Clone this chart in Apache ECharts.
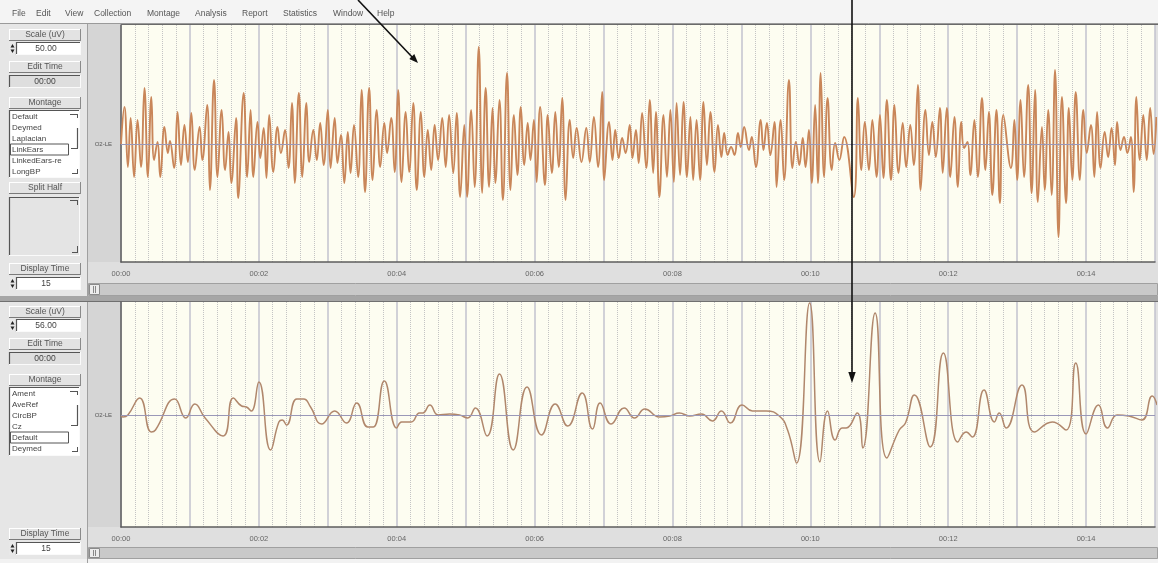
<!DOCTYPE html>
<html><head><meta charset="utf-8">
<script src="https://cdn.jsdelivr.net/npm/echarts/dist/echarts.min.js"></script>
<style>html,body{margin:0;padding:0;background:#e2e2e2}#c{width:1158px;height:563px}</style>
</head><body><div id="c"></div>
<script>
// ---------------- data ----------------
const menuItems = ['File','Edit','View','Collection','Montage','Analysis','Report','Statistics','Window','Help'];
const xTickLabels = ['00:00','00:02','00:04','00:06','00:08','00:10','00:12','00:14'];
const channelLabel = 'O2-LE';
const topMontages = ['Default','Deymed','Laplacian','LinkEars','LinkedEars-re','LongBP'];
const bottomMontages = ['Ament','AveRef','CircBP','Cz','Default','Deymed'];
const topScale = '50.00', bottomScale = '56.00', editTime = '00:00', displayTime = '15';

// upper trace: time (s) of each peak / trough, and its height above the baseline
const topTimes = [
0.00,0.05,0.10,0.14,0.19,0.24,0.29,0.34,0.39,0.44,
0.48,0.53,0.57,0.63,0.68,0.71,0.77,0.82,0.87,0.92,
0.97,1.02,1.07,1.14,1.18,1.25,1.29,1.35,1.40,1.46,
1.51,1.56,1.60,1.67,1.70,1.78,1.83,1.88,1.92,1.98,
2.02,2.07,2.11,2.15,2.21,2.27,2.32,2.38,2.43,2.48,
2.52,2.58,2.63,2.69,2.73,2.79,2.84,2.89,2.94,3.00,
3.04,3.10,3.14,3.19,3.24,3.29,3.33,3.38,3.44,3.49,
3.54,3.60,3.65,3.71,3.76,3.82,3.86,3.92,3.97,4.02,
4.07,4.13,4.18,4.24,4.29,4.35,4.40,4.45,4.50,4.55,
4.60,4.66,4.71,4.76,4.82,4.87,4.92,4.98,5.02,
5.08,5.13,5.19,5.24,5.29,5.34,5.39,5.43,5.49,5.54,
5.60,5.65,5.70,5.75,5.80,5.85,5.90,5.94,5.99,6.03,
6.08,6.15,6.19,6.25,6.30,6.35,6.40,6.45,6.51,6.56,
6.61,6.68,6.75,6.80,6.86,6.92,6.98,7.01,7.08,7.13,
7.17,7.22,7.27,7.32,7.38,7.42,7.47,7.51,7.56,7.62,
7.67,7.72,7.76,7.81,7.87,7.92,7.97,8.02,8.06,8.11,
8.16,8.21,8.26,8.30,8.35,8.40,8.45,8.50,8.55,8.61,
8.66,8.71,8.75,8.80,8.85,8.90,8.95,8.99,9.04,9.11,
9.15,9.21,9.28,9.32,9.37,9.42,9.48,9.51,9.57,9.62,
9.69,9.74,9.79,9.84,9.89,9.93,9.98,10.02,10.07,
10.11,10.15,10.20,10.25,10.31,10.36,10.42,10.49,10.63,10.69,
10.74,10.79,10.85,10.90,10.96,11.01,11.06,11.11,11.17,11.22,
11.28,11.34,11.39,11.45,11.50,11.56,11.60,11.67,11.72,11.77,
11.82,11.88,11.92,11.98,12.03,12.09,12.14,12.19,12.23,12.28,
12.32,12.38,12.43,12.49,12.54,12.59,12.64,12.70,12.75,12.80,
12.91,12.96,13.00,13.05,13.10,13.16,13.21,13.26,13.30,13.36,
13.40,13.45,13.50,13.55,13.60,13.65,13.71,13.75,13.80,13.85,
13.91,13.96,14.01,14.07,14.12,14.16,14.21,14.27,14.32,14.37,
14.42,14.45,14.50,14.55,14.60,14.65,14.69,14.73,14.78,14.83,
14.88,14.93,14.98,15.02];
const topValues = [
0,37,-23,26,-33,24,-23,56,-33,47,
-16,2,-33,17,-9,3,-24,32,-21,19,
-18,31,-26,17,-16,39,-46,64,-33,34,
-26,12,-39,26,-54,51,-33,34,-33,22,
-14,16,-34,29,-28,17,-9,14,-24,41,
-39,51,-33,41,-18,14,-16,21,-21,34,
-24,26,-19,9,-39,12,-29,19,-33,54,
-48,56,-36,34,-23,21,-9,26,-28,54,
-38,32,-28,41,-46,32,-33,14,-26,19,
-16,26,-23,29,-29,31,-53,19,-53,
34,-43,97,-49,56,-43,36,-39,44,-56,
71,-46,29,-31,37,-21,21,-16,24,-38,
37,-41,29,-29,32,-23,46,-56,24,-14,
16,-18,16,-18,27,-23,52,-36,22,-16,
14,-14,6,-9,19,-14,14,-19,31,-24,
44,-29,32,-53,29,-33,34,-38,41,-31,
42,-33,27,-36,24,-36,42,-21,32,-28,
19,-13,11,-11,-3,-11,11,-3,17,-6,
7,-23,24,-6,21,-11,22,-43,24,-36,
64,-24,2,-21,6,-23,14,-39,39,
-39,71,-33,46,-26,1,-16,7,-53,46,
-26,22,-26,24,-33,29,-34,44,-36,39,
-29,21,-23,19,-21,59,-46,34,-11,22,
-13,36,-29,36,-33,27,-43,22,-4,2,
-31,24,-33,46,-26,32,-51,34,-59,29,
-24,24,-36,44,-33,59,-49,54,-58,17,
-46,34,-51,74,-93,47,-59,36,-36,52,
-36,34,-9,19,-33,32,-24,12,-13,16,
-21,22,-6,7,-9,7,-48,47,-16,29,
-16,36,-10,27];

// lower trace
const bottomTimes = [
0.00,0.03,0.10,0.27,0.44,0.50,0.78,0.94,1.07,1.22,
1.48,1.63,1.75,1.82,1.89,2.00,2.17,2.29,2.34,2.40,
2.55,2.65,2.75,2.91,3.10,3.27,3.42,3.58,3.66,3.82,
4.00,4.07,4.21,4.33,4.38,4.48,4.60,4.77,4.91,5.03,
5.14,5.31,5.49,5.69,5.89,6.10,6.30,6.48,6.69,6.84,
6.95,7.11,7.30,7.45,7.60,7.81,7.96,8.10,8.25,8.42,
8.58,8.71,8.84,9.01,9.16,9.36,9.55,9.67,9.80,9.99,
10.14,10.25,10.36,10.46,10.52,10.68,10.76,10.94,11.11,11.29,
11.38,11.51,11.74,11.93,12.14,12.26,12.35,12.52,12.67,12.74,
12.84,13.07,13.25,13.51,13.71,13.85,14.00,14.18,14.31,14.45,
14.62,14.81,14.96,15.03];
const bottomValues = [
-1,-2,0,17,-17,-15,16,-3,11,-3,
-21,17,9,8,4,33,-35,-7,-5,-10,
16,16,8,-9,4,-8,12,-12,-12,34,
-13,-7,-7,2,2,10,0,1,0,-3,
7,-21,41,-35,28,-20,11,-11,22,-14,
12,-9,7,-3,6,-2,-1,2,-1,1,
-6,4,-8,10,4,4,-1,-15,-48,112,
-47,4,-25,-13,-13,2,-33,102,-43,-15,
-8,20,-32,62,-27,-17,-22,25,-7,2,
-13,30,-17,-7,-15,52,-19,10,-13,0,
-1,-5,19,10];

// ---------------- build ----------------
function pairs(ts, vs){ const n=Math.min(ts.length,vs.length); const o=[]; for(let i=0;i<n;i++) o.push([ts[i],vs[i]]); return o; }
const FONT = '"Liberation Sans", Arial, sans-serif';
const G = [];
function rect(x,y,w,h,fill,stroke,z){G.push({type:'rect',silent:true,z:z||-9,shape:{x:x,y:y,width:w,height:h},style:{fill:fill,stroke:stroke||null,lineWidth:1}});}
function line(x1,y1,x2,y2,color,w,z){G.push({type:'line',silent:true,z:z||-8,shape:{x1:x1,y1:y1,x2:x2,y2:y2},style:{stroke:color,lineWidth:w||1}});}
function poly(pts,fill,z){G.push({type:'polygon',silent:true,z:z||-7,shape:{points:pts},style:{fill:fill}});}
function txt(x,y,s,size,align,color){G.push({type:'text',silent:true,z:-6,x:x,y:y,style:{text:s,fill:color||'#444',font:(size||8)+'px '+FONT,align:align||'left',verticalAlign:'middle',textAlign:align||'left',textVerticalAlign:'middle'}});}
function btn(x,y,w,h,label){
  rect(x,y,w,h,'#e3e3e3');
  line(x,y+0.5,x+w,y+0.5,'#ffffff',1);
  line(x+0.5,y,x+0.5,y+h,'#ffffff',1);
  line(x,y+h-0.5,x+w,y+h-0.5,'#7a7a7a',1);
  line(x+w-0.5,y,x+w-0.5,y+h,'#8a8a8a',1);
  txt(x+w/2,y+h/2,label,8.5,'center','#555');
}
function sunken(x,y,w,h,fill){
  rect(x,y,w,h,fill);
  line(x,y+0.5,x+w,y+0.5,'#555',1.2);
  line(x+0.5,y,x+0.5,y+h,'#555',1.2);
  line(x,y+h-0.5,x+w,y+h-0.5,'#fafafa',1);
  line(x+w-0.5,y,x+w-0.5,y+h,'#fafafa',1);
}
function spinBox(y,val){
  rect(9,y,7,13,'#e8e8e8');
  poly([[10.5,y+5.5],[14.5,y+5.5],[12.5,y+2]],'#222');
  poly([[10.5,y+7.5],[14.5,y+7.5],[12.5,y+11]],'#222');
  sunken(16,y,65,13,'#ffffff');
  txt(46,y+7,val,8.5,'center','#444');
}
function listBox(y,h,items,sel){
  sunken(9,y,71,h,'#ffffff');
  items.forEach(function(s,i){
    const cy = y+6.5+i*11;
    txt(12,cy,s,8,'left','#444');
    if(i===sel){ rect(10.5,cy-5.5,58,11,null,'#555',-5); }
  });
  line(70,y+4.5,77,y+4.5,'#555',1); line(77.5,y+4,77.5,y+8,'#555',1);
  line(77.5,y+18,77.5,y+38,'#555',1.2); line(71,y+38.5,78,y+38.5,'#555',1);
  line(72,y+h-4.5,78,y+h-4.5,'#555',1); line(77.5,y+h-9,77.5,y+h-4,'#555',1);
}

// window chrome
rect(0,0,1158,23,'#f4f4f4');
line(0,23.5,1158,23.5,'#9a9a9a',1);
const menuX = [12,36,65,94,147,195,242,283,333,377];
menuItems.forEach(function(m,i){ txt(menuX[i],14,m,8.5,'left','#555'); });
// upper panel
rect(0,24,87,272,'#e6e6e6');
line(87.5,24,87.5,296,'#a0a0a0',1);
rect(88,24,33,239,'#d5d5d5');
rect(88,262,1070,21,'#dfdfdf');
rect(88.5,283.5,1069,12,'#c9c9c9','#a0a0a0');
rect(89.5,284.5,10,10,'#ececec','#8a8a8a',-7);
line(93.5,286,93.5,293,'#888',1,-6); line(95.5,286,95.5,293,'#888',1,-6);
rect(0,296,1158,6,'#a6a6a6');
line(0,301.5,1158,301.5,'#707070',1);
// lower panel
rect(0,302,87,261,'#e6e6e6');
line(87.5,302,87.5,563,'#a0a0a0',1);
rect(88,302,33,225,'#d5d5d5');
rect(88,527,1070,20,'#dfdfdf');
rect(88.5,547.5,1069,11,'#c9c9c9','#a0a0a0');
rect(89.5,548.5,10,9,'#ececec','#8a8a8a',-7);
line(93.5,550,93.5,556,'#888',1,-6); line(95.5,550,95.5,556,'#888',1,-6);
rect(0,559,1158,4,'#f2f2f2');
line(121,24.5,1158,24.5,'#6a6a6a',1.2,50);

// upper controls
btn(9,29,72,12,'Scale (uV)');
spinBox(42,topScale);
btn(9,61,72,12,'Edit Time');
sunken(9,75,72,13,'#dedede'); txt(45,82,editTime,8.5,'center','#444');
btn(9,97,72,12,'Montage');
listBox(110,68,topMontages,3);
btn(9,182,72,12,'Split Half');
sunken(9,197,71,59,'#e4e4e4');
line(72,252.5,78,252.5,'#555',1); line(77.5,246,77.5,253,'#555',1);
line(70,200.5,77,200.5,'#555',1); line(77.5,200,77.5,205,'#555',1);
btn(9,263,72,12,'Display Time');
spinBox(277,displayTime);
// lower controls
btn(9,306,72,12,'Scale (uV)');
spinBox(319,bottomScale);
btn(9,338,72,12,'Edit Time');
sunken(9,352,72,13,'#dedede'); txt(45,359,editTime,8.5,'center','#444');
btn(9,374,72,12,'Montage');
listBox(387,69,bottomMontages,4);
btn(9,528,72,12,'Display Time');
spinBox(542,displayTime);

// annotation arrows
line(358,0,414,59,'#111',1.6,100);
poly([[418,63],[409.3,58.9],[414.3,54.1]],'#111',100);
line(852,0,852,374,'#111',1.6,100);
poly([[852,383],[848.3,372],[855.7,372]],'#111',100);

function xAxisFor(i){
  return {gridIndex:i,type:'value',min:0,max:15,interval:1,
    axisLine:{show:true,onZero:false,lineStyle:{color:'#5e5e5e',width:1.5}},
    axisTick:{show:false},
    minorTick:{show:false,splitNumber:5},
    splitLine:{show:true,lineStyle:{color:'#c2c2ce',width:1.5}},
    minorSplitLine:{show:true,lineStyle:{color:'#c4c4c4',type:'dotted',width:1}},
    axisLabel:{show:true,margin:8,fontSize:7.5,color:'#666',fontFamily:FONT,
      formatter:function(v){ return (Math.round(v)%2===0) ? (xTickLabels[Math.round(v)/2]||'') : ''; }}
  };
}
function yAxisFor(i,mn,mx,step){
  return {gridIndex:i,type:'value',min:mn,max:mx,interval:step,
    axisLine:{show:true,lineStyle:{color:'#5e5e5e',width:1.5}},
    axisTick:{show:false},splitLine:{show:false},
    axisLabel:{show:true,margin:9,fontSize:6,color:'#555',fontFamily:FONT,
      showMinLabel:false,showMaxLabel:false,
      formatter:function(v){ return v===0 ? channelLabel : ''; }}
  };
}
const baseline = {silent:true,symbol:'none',label:{show:false},
  lineStyle:{color:'#9a98b8',width:1,type:'solid'},data:[{yAxis:0}]};

const chart = echarts.init(document.getElementById('c'),null,{renderer:'canvas'});
chart.setOption({
  backgroundColor:'#e2e2e2',
  animation:false,
  graphic:{elements:G},
  grid:[
    {left:121,top:25,width:1037,height:237,show:true,backgroundColor:'#fdfdf1',borderWidth:0},
    {left:121,top:302,width:1037,height:225,show:true,backgroundColor:'#fdfdf1',borderWidth:0}
  ],
  xAxis:[xAxisFor(0),xAxisFor(1)],
  yAxis:[yAxisFor(0,-118,119,118),yAxisFor(1,-112,113,112)],
  series:[
    {type:'line',xAxisIndex:0,yAxisIndex:0,data:pairs(topTimes,topValues),
     smooth:0.45,showSymbol:false,symbol:'none',
     lineStyle:{color:'#c98659',width:1.9},markLine:baseline,z:3},
    {type:'line',xAxisIndex:1,yAxisIndex:1,data:pairs(bottomTimes,bottomValues),
     smooth:0.5,showSymbol:false,symbol:'none',
     lineStyle:{color:'#b0876c',width:1.5},markLine:baseline,z:3}
  ]
});
</script></body></html>
